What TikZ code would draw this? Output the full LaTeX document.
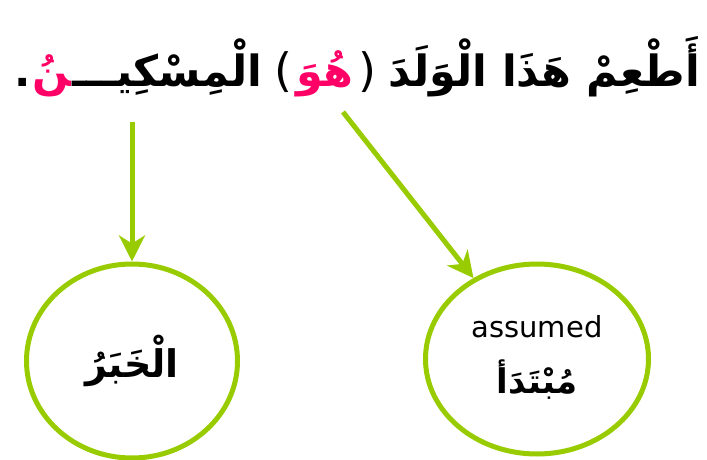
\documentclass[tikz,border=0pt]{standalone}
\usepackage{fontspec}
\newfontfamily\arabicfont[Script=Arabic]{DejaVu Sans}
\newfontfamily\parfont{DejaVu Sans}
\setsansfont{DejaVu Sans}
\TeXXeTstate=1
\usetikzlibrary{arrows.meta,shapes.geometric}
\definecolor{grn}{RGB}{153,204,0}
\definecolor{pnk}{RGB}{255,0,102}
\tikzset{
  arr/.style={draw=grn, line width=5pt, -{Stealth[length=26pt,width=26pt,inset=8pt]}},
  bubble/.style={ellipse, draw=grn, line width=5pt, inner sep=0pt},
  ttl/.style={inner sep=0pt, anchor=base east, font=\fontsize{43}{50}\selectfont\arabicfont\bfseries},
  par/.style={inner sep=0pt, anchor=base east, font=\fontsize{46}{50}\selectfont\parfont},
}
\begin{document}
\begin{tikzpicture}[x=1pt,y=-1pt]
\useasboundingbox (0,0) rectangle (707,460);
% title, laid out right to left
\node[ttl] (t1) at (700,86) {\beginR أَطْعِمْ هَذَا الْوَلَدَ\endR};
\node[par] (t2) at ([xshift=-12pt]t1.base west) {)};
\node[ttl, text=pnk] (t3) at ([xshift=-4pt]t2.base west) {\beginR هُوَ\endR};
\node[par] (t4) at ([xshift=-4pt]t3.base west) {(};
\node[ttl] (t5) at ([xshift=-12pt]t4.base west) {\beginR الْمِسْكِيـــ\endR};
\node[ttl, text=pnk] (t6) at (t5.base west) {\beginR ^^^^200dنُ\endR};
\node[ttl] (t7) at ([xshift=-2pt]t6.base west) {.};
% circles
\node[bubble, minimum width=211pt, minimum height=194pt] (khabar) at (132,361)
  {\fontsize{38}{44}\selectfont\arabicfont\bfseries\beginR الْخَبَرُ\endR};
\node[bubble, minimum width=223pt, minimum height=190pt] (mubtada) at (537,359) {};
\node (assumed) at (537,327) {\fontsize{29}{34}\selectfont\sffamily assumed};
\node (mubtxt) at (537,380) {\fontsize{34}{40}\selectfont\arabicfont\bfseries\beginR مُبْتَدَأ\endR};
% arrows
\coordinate (s1) at (132,122);
\coordinate (s2) at (343,112);
\draw[arr] (s1) -- (khabar.north);
\draw[arr] (s2) -- (mubtada);
\end{tikzpicture}
\end{document}
